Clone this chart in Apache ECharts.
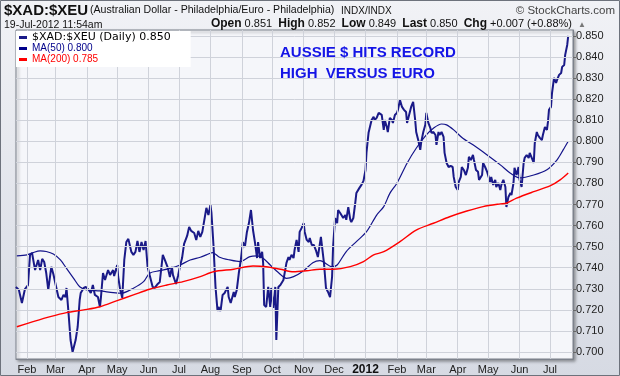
<!DOCTYPE html>
<html><head><meta charset="utf-8">
<script src="https://cdn.jsdelivr.net/npm/echarts@6/dist/echarts.min.js"></script>
<style>html,body{margin:0;padding:0;background:#fff}#c{width:620px;height:376px}</style>
</head><body><div id="c"></div>
<script>
// ---- data ----
const priceDates = [
'2011-01-21','2011-01-24','2011-01-27','2011-01-30','2011-02-02','2011-02-04','2011-02-06','2011-02-09','2011-02-12','2011-02-14',
'2011-02-16','2011-02-18','2011-02-20','2011-02-22','2011-02-25','2011-02-27','2011-03-02','2011-03-04','2011-03-07','2011-03-09',
'2011-03-11','2011-03-12','2011-03-14','2011-03-16','2011-03-18','2011-03-21','2011-03-23','2011-03-25','2011-03-26','2011-03-29',
'2011-03-31','2011-04-03','2011-04-05','2011-04-07','2011-04-09','2011-04-12','2011-04-14','2011-04-15','2011-04-17','2011-04-19',
'2011-04-22','2011-04-24','2011-04-27','2011-04-28','2011-05-01','2011-05-02','2011-05-04','2011-05-06','2011-05-08','2011-05-10',
'2011-05-12','2011-05-15','2011-05-17','2011-05-19','2011-05-21','2011-05-23','2011-05-25','2011-05-27','2011-05-29','2011-05-31',
'2011-06-02','2011-06-05','2011-06-07','2011-06-10','2011-06-12','2011-06-15','2011-06-17','2011-06-20','2011-06-22','2011-06-24',
'2011-06-25','2011-06-28','2011-06-30','2011-07-02','2011-07-04','2011-07-06','2011-07-09','2011-07-11','2011-07-13','2011-07-16',
'2011-07-18','2011-07-20','2011-07-22','2011-07-24','2011-07-28','2011-07-30','2011-08-01','2011-08-02','2011-08-04','2011-08-06',
'2011-08-08','2011-08-09','2011-08-11','2011-08-13','2011-08-15','2011-08-18','2011-08-19','2011-08-21','2011-08-24','2011-08-25',
'2011-08-27','2011-08-29','2011-08-31','2011-09-02','2011-09-04','2011-09-06','2011-09-08','2011-09-10','2011-09-12','2011-09-14',
'2011-09-16','2011-09-17','2011-09-19','2011-09-21','2011-09-22','2011-09-23','2011-09-25','2011-09-27','2011-09-29','2011-09-30',
'2011-10-02','2011-10-04','2011-10-05','2011-10-07','2011-10-09','2011-10-10','2011-10-12','2011-10-15','2011-10-17','2011-10-18',
'2011-10-20','2011-10-22','2011-10-23','2011-10-25','2011-10-27','2011-10-28','2011-10-30','2011-11-01','2011-11-02','2011-11-04',
'2011-11-06','2011-11-07','2011-11-09','2011-11-11','2011-11-13','2011-11-15','2011-11-18','2011-11-19','2011-11-21','2011-11-23',
'2011-11-25','2011-11-27','2011-11-29','2011-11-30','2011-12-02','2011-12-04','2011-12-05','2011-12-07','2011-12-08','2011-12-10',
'2011-12-12','2011-12-13','2011-12-15','2011-12-17','2011-12-18','2011-12-20','2011-12-22','2011-12-23','2011-12-26','2011-12-28',
'2011-12-30','2012-01-01','2012-01-02','2012-01-04','2012-01-05','2012-01-07','2012-01-09','2012-01-10','2012-01-12','2012-01-14',
'2012-01-15','2012-01-17','2012-01-19','2012-01-20','2012-01-22','2012-01-23','2012-01-25','2012-01-27','2012-01-28','2012-01-30',
'2012-02-01','2012-02-02','2012-02-04','2012-02-06','2012-02-08','2012-02-10','2012-02-11','2012-02-13','2012-02-15','2012-02-17',
'2012-02-18','2012-02-19','2012-02-20','2012-02-22','2012-02-24','2012-02-25','2012-02-27','2012-02-29','2012-03-01','2012-03-03',
'2012-03-05','2012-03-06','2012-03-08','2012-03-10','2012-03-11','2012-03-13','2012-03-14','2012-03-16','2012-03-18','2012-03-19',
'2012-03-21','2012-03-23','2012-03-25','2012-03-27','2012-03-28','2012-03-30','2012-04-01','2012-04-02','2012-04-04','2012-04-05',
'2012-04-07','2012-04-09','2012-04-11','2012-04-12','2012-04-14','2012-04-16','2012-04-17','2012-04-19','2012-04-21','2012-04-22',
'2012-04-25','2012-04-26','2012-04-28','2012-04-30','2012-05-01','2012-05-03','2012-05-04','2012-05-06','2012-05-08','2012-05-09',
'2012-05-11','2012-05-13','2012-05-14','2012-05-16','2012-05-18','2012-05-19','2012-05-21','2012-05-23','2012-05-24','2012-05-26',
'2012-05-27','2012-05-29','2012-05-31','2012-06-01','2012-06-03','2012-06-05','2012-06-06','2012-06-08','2012-06-10','2012-06-11',
'2012-06-13','2012-06-15','2012-06-16','2012-06-18','2012-06-19','2012-06-21','2012-06-23','2012-06-24','2012-06-26','2012-06-28',
'2012-06-29','2012-06-30','2012-07-02','2012-07-03','2012-07-05','2012-07-07','2012-07-08','2012-07-10','2012-07-12','2012-07-13',
'2012-07-15','2012-07-16','2012-07-18','2012-07-19'
];
const priceValues = [
0.7309,0.7295,0.7233,0.7299,0.7318,0.7461,0.7470,0.7389,0.7437,0.7389,
0.7442,0.7427,0.7375,0.7295,0.7404,0.7370,0.7304,0.7261,0.7247,0.7271,
0.7261,0.7304,0.7185,0.7057,0.7000,0.7057,0.7119,0.7247,0.7280,0.7304,
0.7309,0.7295,0.7280,0.7318,0.7271,0.7261,0.7214,0.7261,0.7375,0.7342,
0.7389,0.7366,0.7389,0.7361,0.7413,0.7356,0.7295,0.7257,0.7437,0.7522,
0.7537,0.7475,0.7461,0.7475,0.7527,0.7475,0.7522,0.7484,0.7527,0.7404,
0.7366,0.7309,0.7304,0.7323,0.7332,0.7461,0.7437,0.7399,0.7356,0.7404,
0.7366,0.7323,0.7361,0.7408,0.7446,0.7513,0.7551,0.7594,0.7575,0.7565,
0.7532,0.7575,0.7546,0.7570,0.7684,0.7650,0.7698,0.7660,0.7508,0.7309,
0.7195,0.7214,0.7195,0.7271,0.7280,0.7309,0.7261,0.7233,0.7285,0.7261,
0.7295,0.7375,0.7437,0.7522,0.7499,0.7570,0.7612,0.7674,0.7579,0.7518,
0.7446,0.7522,0.7446,0.7475,0.7423,0.7223,0.7214,0.7309,0.7214,0.7304,
0.7209,0.7309,0.7057,0.7309,0.7318,0.7318,0.7342,0.7423,0.7451,0.7437,
0.7461,0.7446,0.7484,0.7532,0.7475,0.7570,0.7589,0.7612,0.7570,0.7532,
0.7522,0.7541,0.7508,0.7508,0.7484,0.7451,0.7546,0.7546,0.7423,0.7304,
0.7285,0.7261,0.7356,0.7499,0.7636,0.7612,0.7674,0.7660,0.7665,0.7636,
0.7650,0.7627,0.7688,0.7627,0.7617,0.7636,0.7712,0.7755,0.7779,0.7793,
0.7812,0.7864,0.7949,0.8040,0.8044,0.8101,0.8116,0.8101,0.8111,0.8135,
0.8139,0.8125,0.8054,0.8101,0.8068,0.8044,0.8111,0.8101,0.8087,0.8125,
0.8135,0.8149,0.8196,0.8163,0.8149,0.8139,0.8087,0.8125,0.8163,0.8187,
0.8182,0.8101,0.8044,0.8006,0.7959,0.7997,0.8044,0.8078,0.8135,0.8087,
0.8063,0.8040,0.8044,0.8030,0.7983,0.8044,0.8030,0.8044,0.8021,0.7945,
0.7897,0.7878,0.7883,0.7878,0.7831,0.7783,0.7769,0.7807,0.7831,0.7878,
0.7864,0.7840,0.7874,0.7926,0.7911,0.7935,0.7911,0.7864,0.7855,0.7817,
0.7840,0.7897,0.7878,0.7855,0.7850,0.7807,0.7831,0.7793,0.7817,0.7783,
0.7802,0.7769,0.7793,0.7817,0.7783,0.7688,0.7736,0.7755,0.7745,0.7802,
0.7874,0.7840,0.7878,0.7817,0.7783,0.7897,0.7921,0.7935,0.7921,0.7945,
0.7921,0.7897,0.7992,0.8044,0.8030,0.8016,0.8006,0.8030,0.8068,0.8054,
0.8092,0.8149,0.8163,0.8229,0.8301,0.8277,0.8291,0.8315,0.8324,0.8353,
0.8362,0.8410,0.8457,0.8500
];
const ma50Dates = [
'2011-01-22','2011-02-01','2011-02-07','2011-02-14','2011-02-20','2011-02-27','2011-03-06','2011-03-12','2011-03-19','2011-03-25',
'2011-04-01','2011-04-14','2011-04-27','2011-05-05','2011-05-17','2011-05-27','2011-06-02','2011-06-12','2011-06-22','2011-07-02',
'2011-07-12','2011-07-22','2011-07-28','2011-08-03','2011-08-10','2011-08-20','2011-08-30','2011-09-09','2011-09-16','2011-09-22',
'2011-09-29','2011-10-07','2011-10-15','2011-10-22','2011-11-01','2011-11-10','2011-11-17','2011-11-20','2011-11-29','2011-12-04',
'2011-12-13','2011-12-23','2012-01-02','2012-01-12','2012-01-19','2012-01-25','2012-02-01','2012-02-11','2012-02-20','2012-03-01',
'2012-03-08','2012-03-16','2012-03-21','2012-03-28','2012-04-06','2012-04-16','2012-04-30','2012-05-13','2012-05-23','2012-06-01',
'2012-06-15','2012-06-28','2012-07-08','2012-07-14','2012-07-19'
];
const ma50Values = [
0.7456,0.7461,0.7472,0.7480,0.7477,0.7465,0.7437,0.7397,0.7350,0.7310,
0.7295,0.7290,0.7282,0.7279,0.7303,0.7334,0.7374,0.7386,0.7397,0.7413,
0.7437,0.7450,0.7461,0.7472,0.7450,0.7437,0.7429,0.7453,0.7456,0.7445,
0.7413,0.7377,0.7350,0.7358,0.7386,0.7424,0.7434,0.7429,0.7405,0.7413,
0.7477,0.7524,0.7571,0.7650,0.7690,0.7753,0.7801,0.7896,0.7967,0.8030,
0.8062,0.8082,0.8078,0.8054,0.8014,0.7983,0.7935,0.7888,0.7848,0.7826,
0.7840,0.7865,0.7912,0.7959,0.8000
];
const ma200Dates = [
'2011-01-22','2011-02-07','2011-02-24','2011-03-12','2011-03-29','2011-04-14','2011-05-01','2011-05-17','2011-06-02','2011-06-19',
'2011-07-05','2011-07-22','2011-08-04','2011-08-24','2011-09-12','2011-09-25','2011-10-09','2011-10-22','2011-11-04','2011-11-17',
'2011-11-30','2011-12-17','2011-12-30','2012-01-09','2012-01-19','2012-02-04','2012-02-20','2012-03-08','2012-03-24','2012-04-10',
'2012-04-26','2012-05-13','2012-05-19','2012-05-29','2012-06-15','2012-07-01','2012-07-11','2012-07-19'
];
const ma200Values = [
0.7120,0.7144,0.7168,0.7187,0.7200,0.7215,0.7244,0.7271,0.7298,0.7318,
0.7334,0.7358,0.7381,0.7393,0.7408,0.7405,0.7393,0.7381,0.7386,0.7393,
0.7393,0.7405,0.7429,0.7461,0.7476,0.7524,0.7579,0.7611,0.7642,0.7669,
0.7690,0.7703,0.7706,0.7730,0.7761,0.7788,0.7817,0.7850
];
const yTickValues = [0.70,0.71,0.72,0.73,0.74,0.75,0.76,0.77,0.78,0.79,0.80,0.81,0.82,0.83,0.84,0.85];
const monthNames = ['Jan','Feb','Mar','Apr','May','Jun','Jul','Aug','Sep','Oct','Nov','Dec'];
const monthTicks = [
'2011-02-01','2011-03-01','2011-04-01','2011-05-01','2011-06-01','2011-07-01','2011-08-01','2011-09-01','2011-10-01',
'2011-11-01','2011-12-01','2012-01-01','2012-02-01','2012-03-01','2012-04-01','2012-05-01','2012-06-01','2012-07-01'
];

// ---- build ----
function ts(s){const p=s.split('-');return new Date(+p[0],+p[1]-1,+p[2]).getTime();}
const pair=(d,v)=>d.map((x,i)=>[ts(x),v[i]]);
const last=a=>a[a.length-1];
const nameP='$XAD:$XEU (Daily) '+last(priceValues).toFixed(3);
const nameM50='MA(50) '+last(ma50Values).toFixed(3);
const nameM200='MA(200) '+last(ma200Values).toFixed(3);
const tickTs=monthTicks.map(ts);
const xMin=new Date(2011,0,21,4).getTime(), xMax=new Date(2012,6,23,17).getTime();

const chart=echarts.init(document.getElementById('c'),null,{renderer:'canvas'});
const F='"Liberation Sans", Arial, sans-serif';
const gridLineStyle={type:'solid',color:'#cfd2da',width:1};
chart.setOption({
  animation:false,
  graphic:[
    {type:'rect',z:-10,silent:true,shape:{x:0.5,y:0.5,width:619,height:375},
     style:{fill:{type:'linear',x:0,y:0,x2:0,y2:1,colorStops:[{offset:0,color:'#f1f2f6'},{offset:1,color:'#d6dae3'}]},stroke:'#6d727c',lineWidth:1}},
    {type:'text',left:4,top:3,style:{text:'$XAD:$XEU',font:'bold 15px '+F,fill:'#111'}},
    {type:'text',left:90,top:5,style:{text:'(Australian Dollar - Philadelphia/Euro - Philadelphia)',font:'10.6px '+F,fill:'#111'}},
    {type:'text',left:341,top:6,style:{text:'INDX/INDX',font:'10px '+F,fill:'#111'}},
    {type:'text',right:5,top:5,style:{text:'\u00a9 StockCharts.com',font:'11.5px '+F,fill:'#444'}},
    {type:'text',left:4,top:20,style:{text:'19-Jul-2012 11:54am',font:'10.5px '+F,fill:'#111'}},
    {type:'text',right:48,top:18,style:{text:'{b|Open} 0.851  {b|High} 0.852  {b|Low} 0.849  {b|Last} '+last(priceValues).toFixed(3)+'  {b|Chg} +0.007 (+0.88%)',
      font:'11px '+F,fill:'#111',rich:{b:{fontWeight:'bold',fontSize:12,fontFamily:F,fill:'#111'}}}},
    {type:'text',right:34,top:21,style:{text:'\u25b2',font:'8px '+F,fill:'#777'}},
    {type:'text',left:280,top:45,z:50,style:{text:'AUSSIE $ HITS RECORD',font:'bold 15px '+F,fill:'#1414e6'}},
    {type:'text',left:280,top:66,z:50,style:{text:'HIGH  VERSUS EURO',font:'bold 15px '+F,fill:'#1414e6'}}
  ],
  grid:{left:16,right:47,top:30,bottom:17,show:true,backgroundColor:'#f5f6fa',borderColor:'#7d828c',borderWidth:1,
        shadowColor:'rgba(0,0,0,0.35)',shadowBlur:3,shadowOffsetX:2,shadowOffsetY:2},
  legend:{left:16,top:31,z:20,orient:'vertical',itemGap:0,itemWidth:8,itemHeight:3,icon:'rect',
    backgroundColor:'#ffffff',padding:[1,20,2,3],selectedMode:false,
    textStyle:{fontSize:10,fontFamily:F,lineHeight:11},
    data:[{name:nameP,textStyle:{color:'#000',fontFamily:'"DejaVu Sans", sans-serif',fontSize:11}},
          {name:nameM50,textStyle:{color:'#00008b'}},
          {name:nameM200,textStyle:{color:'#ff0000'}}]},
  xAxis:{type:'value',min:xMin,max:xMax,
    axisLine:{show:true,lineStyle:{color:'#7d828c'}},
    axisTick:{show:false,customValues:tickTs},
    splitLine:{show:false},
    axisLabel:{customValues:tickTs,fontSize:11,fontFamily:F,color:'#222',margin:5,
      formatter:function(v){const d=new Date(v);return d.getMonth()===0?'{y|'+d.getFullYear()+'}':monthNames[d.getMonth()];},
      rich:{y:{fontWeight:'bold',fontSize:12,fontFamily:F,color:'#111'}}}},
  yAxis:{type:'value',position:'right',min:0.6967,max:0.8528,
    axisLine:{show:true,lineStyle:{color:'#7d828c'}},
    axisTick:{show:true,length:3,customValues:yTickValues,lineStyle:{color:'#666'}},
    splitLine:{show:false},
    axisLabel:{customValues:yTickValues,fontSize:11,fontFamily:F,color:'#222',margin:3,
      formatter:v=>v.toFixed(3)}},
  series:[
    {name:'grid',type:'line',data:[],z:1,silent:true,
     markLine:{silent:true,symbol:['none','none'],label:{show:false},lineStyle:gridLineStyle,animation:false,
       emphasis:{disabled:true},
       data:yTickValues.map(v=>({yAxis:v})).concat(tickTs.map(t=>({xAxis:t})))}},
    {name:nameP,type:'line',data:pair(priceDates,priceValues),symbol:'none',color:'#1a1a88',lineStyle:{width:2,color:'#1a1a88'},z:3},
    {name:nameM50,type:'line',data:pair(ma50Dates,ma50Values),symbol:'none',smooth:0.3,color:'#00008b',lineStyle:{width:1.2,color:'#14148a'},z:4},
    {name:nameM200,type:'line',data:pair(ma200Dates,ma200Values),symbol:'none',smooth:0.3,color:'#ff0000',lineStyle:{width:1.4,color:'#ff0000'},z:5}
  ]
});
</script></body></html>
